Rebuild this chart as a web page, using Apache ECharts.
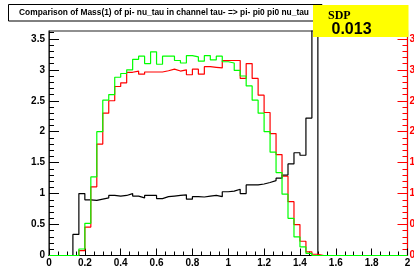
<!DOCTYPE html>
<html><head><meta charset="utf-8">
<script src="https://cdn.jsdelivr.net/npm/echarts@6/dist/echarts.min.js"></script>
<style>html,body{margin:0;padding:0;background:#fff;}#c{width:414px;height:269px;}</style>
</head><body><div id="c"></div>
<script>
// Histogram range and binning (60 bins of width 1/30 from 0 to 2)
const xMin = 0, xMax = 2, nBins = 60;
const yMax = 3.627;
const xTickLabels = [0, 0.2, 0.4, 0.6, 0.8, 1, 1.2, 1.4, 1.6, 1.8, 2];
const yTickLabels = [0, 0.5, 1, 1.5, 2, 2.5, 3, 3.5];
const yMinorTicks = [0.1,0.2,0.3,0.4,0.6,0.7,0.8,0.9,1.1,1.2,1.3,1.4,1.6,1.7,1.8,1.9,2.1,2.2,2.3,2.4,2.6,2.7,2.8,2.9,3.1,3.2,3.3,3.4,3.6];

const blackVals = [0,0,0,0,0.34,1.00,0.90,0.89,0.91,0.93,0.97,0.96,0.97,1.00,0.96,0.93,0.97,0.97,0.92,0.95,
  0.96,0.97,0.98,0.91,0.95,0.945,0.96,0.97,0.95,1.03,1.04,1.07,1.00,1.14,1.14,1.155,1.18,1.21,1.25,1.30,
  1.48,1.66,1.62,2.22,6.0,0,0,0,0,0,0,0,0,0,0,0,0,0,0,0];
const redVals = [0,0,0,0,0,0.08,0.46,1.11,1.80,2.30,2.50,2.73,2.79,2.96,2.98,2.93,2.965,2.965,2.965,2.985,
  3.01,2.98,3.00,2.92,3.01,2.93,3.05,3.04,3.03,3.15,3.15,3.15,2.86,3.10,2.86,2.59,2.31,1.97,1.63,1.28,
  0.87,0.50,0.23,0.06,0.02,0,0,0,0,0,0,0,0,0,0,0,0,0,0,0];
const greenVals = [0,0,0,0,0,0.105,0.52,1.27,2.00,2.51,2.60,2.88,2.94,3.00,3.17,3.22,3.10,3.29,3.09,3.22,
  3.22,3.15,3.11,3.23,3.21,3.14,3.23,3.16,3.22,3.13,3.11,2.99,2.90,2.74,2.51,2.30,2.00,1.67,1.34,0.99,
  0.60,0.30,0.14,0.035,0,0,0,0,0,0,0,0,0,0,0,0,0,0,0,0];

const titleText = 'Comparison of Mass(1) of pi- nu_tau in channel tau- => pi- pi0 pi0 nu_tau';
const sdpLabel = 'SDP';
const sdpValue = '0.013';

function histData(vals) {
  const w = (xMax - xMin) / nBins;
  const d = vals.map((v, i) => [xMin + i * w, v]);
  d.push([xMax, vals[vals.length - 1]]);
  return d;
}

const font = 'Liberation Sans, Arial, sans-serif';
const chart = echarts.init(document.getElementById('c'), null, {renderer: 'canvas'});
const lblStyle = {fontFamily: font, fontWeight: 'bold', fontSize: 10, color: '#000'};

function mkSeries(vals, color, z) {
  return {type: 'line', data: histData(vals), step: 'end', symbol: 'none', showSymbol: false,
    xAxisIndex: 0, yAxisIndex: 0, clip: true, z: z, animation: false,
    lineStyle: {color: color, width: 1.2}, emphasis: {disabled: true}};
}

chart.setOption({
  animation: false,
  backgroundColor: '#fff',
  grid: {left: 49, right: 6.5, top: 31, bottom: 13.5, containLabel: false, outerBoundsMode: 'none',
    show: true, borderColor: '#222', borderWidth: 1.2, backgroundColor: 'transparent'},
  xAxis: [{
    type: 'value', min: xMin, max: xMax, interval: 0.2, position: 'bottom',
    axisLine: {show: true, onZero: false, lineStyle: {color: '#000', width: 1.2}},
    axisTick: {show: true, inside: true, length: 7, lineStyle: {color: '#000'}},
    minorTick: {show: true, splitNumber: 4, length: 4, lineStyle: {color: '#000'}},
    splitLine: {show: false}, minorSplitLine: {show: false},
    axisLabel: Object.assign({margin: 3, customValues: xTickLabels, hideOverlap: false}, lblStyle)
  }],
  yAxis: [{
    type: 'value', min: 0, max: yMax, position: 'left',
    axisLine: {show: true, onZero: false, lineStyle: {color: '#222', width: 1}},
    axisTick: {show: true, inside: true, length: 10, customValues: yTickLabels, lineStyle: {color: '#000'}},
    splitLine: {show: false},
    axisLabel: Object.assign({margin: 4, customValues: yTickLabels}, lblStyle)
  }, {
    type: 'value', min: 0, max: yMax, position: 'left',
    axisLine: {show: false},
    axisTick: {show: true, inside: true, length: 5, customValues: yMinorTicks, lineStyle: {color: '#000'}},
    splitLine: {show: false}, axisLabel: {show: false}
  }, {
    type: 'value', min: 0, max: yMax, position: 'right',
    axisLine: {show: true, onZero: false, lineStyle: {color: '#ff0000', width: 1}},
    axisTick: {show: true, inside: true, length: 10, customValues: yTickLabels, lineStyle: {color: '#ff0000'}},
    splitLine: {show: false},
    axisLabel: Object.assign({}, lblStyle, {margin: 2, color: '#ff0000', customValues: yTickLabels})
  }, {
    type: 'value', min: 0, max: yMax, position: 'right',
    axisLine: {show: false},
    axisTick: {show: true, inside: true, length: 5, customValues: yMinorTicks, lineStyle: {color: '#ff0000'}},
    splitLine: {show: false}, axisLabel: {show: false}
  }],
  series: [
    mkSeries(blackVals, '#000000', 2),
    mkSeries(redVals, '#ff0000', 3),
    mkSeries(greenVals, '#00ff00', 4)
  ],
  graphic: [
    {type: 'rect', z: 100, shape: {x: 8.5, y: 4.5, width: 313.5, height: 16.5},
      style: {fill: '#fff', stroke: '#000', lineWidth: 1}},
    {type: 'text', z: 101, x: 164, y: 13, style: {text: titleText, fontFamily: font, fontWeight: 'bold', fontSize: 8.4,
      fill: '#000', align: 'center', verticalAlign: 'middle'}},
    {type: 'rect', z: 100, shape: {x: 313, y: 5, width: 95.5, height: 32}, style: {fill: '#ffff00'}},
    {type: 'text', z: 101, x: 328, y: 15.5, style: {text: sdpLabel, fontFamily: 'Liberation Serif, Times New Roman, serif',
      fontWeight: 'bold', fontSize: 12, fill: '#000', align: 'left', verticalAlign: 'middle'}},
    {type: 'text', z: 101, x: 331.5, y: 29.5, style: {text: sdpValue, fontFamily: font, fontWeight: 'bold', fontSize: 16,
      fill: '#000', align: 'left', verticalAlign: 'middle'}}
  ]
});
</script>
</body></html>
